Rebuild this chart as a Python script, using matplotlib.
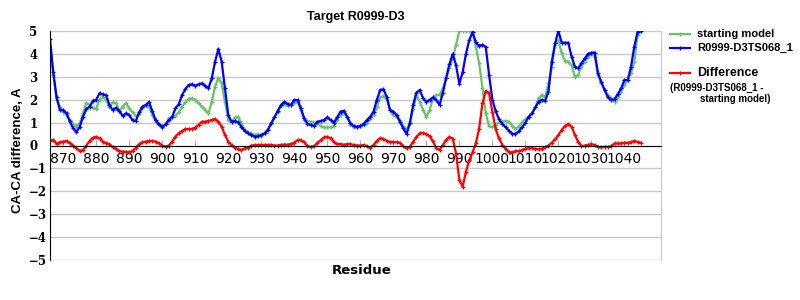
import numpy as np
import matplotlib
matplotlib.use("Agg")
import matplotlib.pyplot as plt
from matplotlib.lines import Line2D

# residue numbers (one point per residue)
residues = np.arange(866, 1046)

# CA-CA difference of the starting model
start_model = [
    4.2, 3.1, 2.0, 1.7, 1.48, 1.33, 1.1, 0.92, 0.82, 0.97,
    1.4, 1.85, 1.77, 1.65, 1.6, 2.0, 2.13, 2.0, 1.7, 1.88,
    1.85, 1.5, 1.7, 1.85, 1.62, 1.45, 1.3, 1.36, 1.62, 1.77,
    1.7, 1.33, 1.04, 0.9, 0.78, 0.92, 1.19, 1.25, 1.3, 1.45,
    1.7, 1.88, 2.03, 2.06, 1.99, 1.84, 1.7, 1.55, 1.4, 1.91,
    2.57, 2.96, 2.71, 1.91, 1.11, 1.04, 1.22, 1.26, 0.97, 0.68,
    0.57, 0.53, 0.46, 0.49, 0.41, 0.53, 0.7, 0.94, 1.23, 1.48,
    1.72, 1.81, 1.72, 1.77, 1.84, 1.91, 1.55, 1.11, 1.08, 1.04,
    1.0, 0.97, 0.85, 0.79, 0.79, 0.79, 0.85, 1.11, 1.33, 1.43,
    1.26, 0.9, 0.79, 0.79, 0.85, 0.9, 1.0, 1.14, 1.33, 1.66,
    2.1, 2.16, 2.02, 1.55, 1.33, 1.23, 1.11, 0.85, 0.68, 0.97,
    1.58, 2.2, 1.91, 1.55, 1.26, 1.55, 2.06, 2.2, 2.2, 2.49,
    2.93, 3.37, 3.8, 4.39, 5.0, 5.0, 5.0, 5.0, 4.94, 4.3,
    3.6, 2.5, 1.4, 0.85, 0.8, 0.9, 1.01, 1.04, 1.07, 1.04,
    0.87, 0.72, 0.82, 1.01, 1.14, 1.26, 1.4, 1.66, 2.06, 2.2,
    2.13, 2.71, 3.44, 4.39, 4.6, 4.02, 3.7, 3.66, 3.51, 3.0,
    3.08, 3.44, 3.66, 3.88, 4.0, 3.88, 3.08, 2.71, 2.42, 2.2,
    2.06, 1.91, 2.1, 2.35, 2.64, 2.86, 3.15, 3.66, 4.82, 5.0,
]

# CA-CA difference of R0999-D3TS068_1
ts068 = [
    4.65, 3.2, 2.1, 1.55, 1.55, 1.4, 1.05, 0.75, 0.58, 0.82,
    1.25, 1.6, 1.7, 1.95, 2.0, 2.28, 2.23, 2.2, 1.77, 1.55,
    1.65, 1.5, 1.3, 1.4, 1.33, 1.1, 1.07, 1.45, 1.7, 1.77,
    1.9, 1.5, 1.1, 0.92, 0.82, 0.92, 1.1, 1.25, 1.62, 1.8,
    2.2, 2.47, 2.64, 2.67, 2.61, 2.67, 2.71, 2.61, 2.5, 2.93,
    3.66, 4.21, 3.66, 2.5, 1.33, 1.04, 1.07, 1.01, 0.82, 0.63,
    0.53, 0.46, 0.39, 0.4, 0.46, 0.53, 0.68, 0.97, 1.23, 1.52,
    1.77, 1.91, 1.81, 1.77, 1.99, 1.99, 1.62, 1.19, 0.94, 0.9,
    0.85, 1.04, 1.07, 1.11, 1.23, 1.11, 1.0, 1.23, 1.48, 1.52,
    1.26, 0.97, 0.85, 0.82, 0.85, 0.94, 1.11, 1.26, 1.48, 1.99,
    2.42, 2.45, 2.13, 1.55, 1.48, 1.33, 1.04, 0.75, 0.5, 0.97,
    1.77, 2.31, 2.42, 2.06, 1.91, 1.99, 2.1, 1.99, 1.77, 2.3,
    2.95, 3.55, 4.0, 3.5, 2.7, 3.2, 4.0, 4.6, 4.95, 4.5,
    4.35, 4.4, 4.3, 3.1, 2.0, 1.5, 1.15, 0.95, 0.8, 0.65,
    0.52, 0.5, 0.62, 0.8, 0.98, 1.26, 1.4, 1.66, 1.91, 1.99,
    1.96, 2.35, 3.66, 4.46, 5.0, 4.49, 4.49, 4.49, 3.88, 3.44,
    3.37, 3.59, 3.8, 4.0, 4.05, 4.06, 3.15, 2.79, 2.42, 2.1,
    1.99, 2.02, 2.25, 2.49, 2.86, 2.86, 3.44, 4.32, 4.97, 5.0,
]

# difference (R0999-D3TS068_1 - starting model)
difference = [
    0.2, 0.24, 0.08, 0.14, 0.17, 0.2, 0.1, 0.0, -0.12, -0.24,
    -0.2, 0.0, 0.2, 0.34, 0.38, 0.31, 0.17, 0.1, 0.05, -0.07,
    -0.15, -0.24, -0.27, -0.27, -0.3, -0.24, -0.1, 0.05, 0.14, 0.17,
    0.2, 0.2, 0.17, 0.09, 0.0, -0.05, 0.0, 0.17, 0.39, 0.53,
    0.63, 0.72, 0.72, 0.72, 0.78, 0.9, 1.04, 1.04, 1.07, 1.11,
    1.16, 1.04, 0.82, 0.46, 0.17, 0.02, -0.1, -0.15, -0.2, -0.12,
    -0.1, 0.0, 0.02, 0.02, 0.02, 0.03, 0.02, 0.03, 0.0, 0.0,
    0.03, 0.04, 0.04, 0.06, 0.12, 0.23, 0.23, 0.15, -0.03, -0.06,
    -0.03, 0.12, 0.23, 0.35, 0.38, 0.31, 0.16, 0.06, 0.06, 0.03,
    0.06, 0.06, 0.02, 0.0, 0.0, 0.02, -0.03, -0.09, 0.02, 0.2,
    0.32, 0.29, 0.2, 0.16, 0.15, 0.15, 0.12, -0.03, -0.13, -0.06,
    0.16, 0.38, 0.53, 0.55, 0.5, 0.4, 0.18, -0.13, -0.18, 0.02,
    0.25, 0.38, 0.3, -0.35, -1.5, -1.8, -1.15, -0.64, -0.3, 0.09,
    0.74, 1.84, 2.38, 2.28, 1.48, 0.72, 0.31, 0.04, -0.16, -0.28,
    -0.3, -0.25, -0.25, -0.2, -0.14, -0.12, -0.12, -0.14, -0.17, -0.14,
    -0.08, 0.0, 0.12, 0.27, 0.46, 0.68, 0.85, 0.94, 0.82, 0.46,
    0.16, -0.03, 0.0, 0.03, 0.06, 0.02, -0.06, -0.08, -0.06, -0.06,
    -0.03, 0.09, 0.09, 0.09, 0.12, 0.12, 0.15, 0.2, 0.15, 0.12,
]

x_ticks = list(range(870, 1041, 10))
y_ticks = list(range(-5, 6))

GREEN = '#66c466'
BLUE = '#0000ff'
RED = '#ff0000'
GRID = '#c8c8c8'

fig = plt.figure(figsize=(8, 3), dpi=100)
ax = fig.add_axes([0.0625, 0.1333, 0.7634, 0.7634])

style = dict(lw=1.6, marker='+', ms=3, mew=0.9)
ax.plot(residues, start_model, color=GREEN, **style)
ax.plot(residues, ts068, color=BLUE, **style)
ax.plot(residues, difference, color=RED, **style)

ax.set_xlim(866, 1051)
ax.set_ylim(-5, 5)

ax.set_yticks(y_ticks)
ax.set_yticklabels([str(v).replace('-', '\u2212') for v in y_ticks])
ax.yaxis.grid(True, color=GRID, lw=1)
ax.set_axisbelow(True)
ax.tick_params(axis='y', length=0, pad=15)
for lab in ax.get_yticklabels():
    lab.set_horizontalalignment('left')
    lab.set_fontfamily('DejaVu Serif')
    lab.set_fontweight('bold')
    lab.set_fontsize(8.5)

ax.set_xticks(x_ticks)
ax.set_xticklabels([str(v) for v in x_ticks])
ax.tick_params(axis='x', direction='in', length=4, color='#b0b0b0', pad=5)
for lab in ax.get_xticklabels():
    lab.set_fontfamily('DejaVu Sans')
    lab.set_fontweight('bold')
    lab.set_fontsize(7.5)

ax.spines['bottom'].set_position(('data', 0))
ax.spines['bottom'].set_color('black')
ax.spines['left'].set_color('black')
ax.spines['top'].set_visible(False)
ax.spines['right'].set_color(GRID)

ax.set_title('Target R0999-D3', fontfamily='Liberation Sans', fontweight='bold',
             fontsize=9, pad=8)
ax.set_ylabel('CA-CA difference, A', fontfamily='Liberation Sans', fontweight='bold',
              fontsize=9.5)
ax.yaxis.set_label_coords(-0.043, 0.48)
fig.text(0.452, 1 - 270 / 300, 'Residue', fontfamily='DejaVu Sans', fontweight='bold',
         fontsize=9.5, ha='center', va='center')

# legend, drawn by hand at the right side
entries = [(GREEN, 'starting model', 34, 8), (BLUE, 'R0999-D3TS068_1', 48, 8),
           (RED, 'Difference', 73, 9)]
for col, txt, py, fs in entries:
    yy = 1 - py / 300
    fig.add_artist(Line2D([670 / 800, 690 / 800], [yy, yy], color=col, lw=1.6))
    fig.add_artist(Line2D([680 / 800], [yy], color=col, marker='+', ms=3, mew=0.9))
    fig.text(697 / 800, yy, txt, fontfamily='Liberation Sans', fontweight='bold',
             fontsize=fs, va='center', ha='left')
fig.text(670 / 800, 1 - 88 / 300, '(R0999-D3TS068_1 -', fontfamily='Liberation Sans',
         fontweight='bold', fontsize=7, va='center', ha='left')
fig.text(700 / 800, 1 - 99 / 300, 'starting model)', fontfamily='Liberation Sans',
         fontweight='bold', fontsize=7, va='center', ha='left')

fig.savefig('out.png', dpi=100)
